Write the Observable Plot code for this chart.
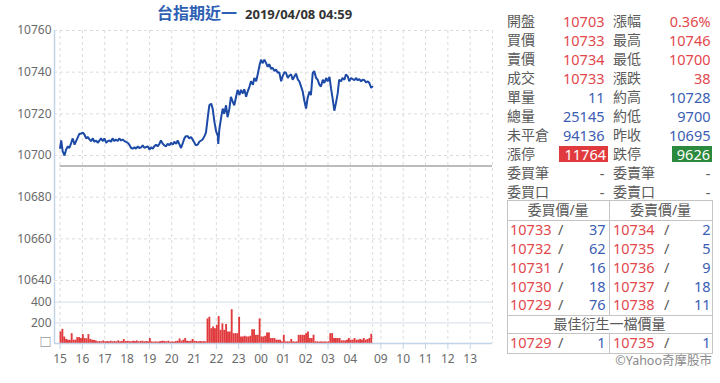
<!DOCTYPE html>
<html><head><meta charset="utf-8">
<script src="https://cdn.jsdelivr.net/npm/d3@7"></script>
<script src="https://cdn.jsdelivr.net/npm/@observablehq/plot@0.6"></script>
<style>
body{margin:0;background:#fff;}
#wrap{position:relative;width:720px;height:383px;overflow:hidden;background:#fff;font-family:"Noto Sans","Noto Sans CJK TC",sans-serif;}
.t{position:absolute;white-space:nowrap;height:20px;line-height:20px;}
#wrap svg{position:absolute;left:0;}
.ln{position:absolute;background:#c4c4c4;}
</style></head><body><div id="wrap"></div>
<script>
// ---------- data ----------
const titleMain = "台指期近一";
const titleStamp = "2019/04/08 04:59";
const prevClose = 10695;
const priceTicks = [10640, 10660, 10680, 10700, 10720, 10740, 10760];
const volTicks = [0, 200, 400];
const hourTicks = ["15:00","16:00","17:00","18:00","19:00","20:00","21:00","22:00","23:00","00:00","01:00","02:00","03:00","04:00","09:00","10:00","11:00","12:00","13:00"];
const hourLabels = ["15","16","17","18","19","20","21","22","23","00","01","02","03","04","09","10","11","12","13"];
const extraGrid = ["05:00","14:00"];

const priceTimes = ["15:00","15:03","15:07","15:12","15:16","15:21","15:25","15:30","15:34","15:39","15:43","15:47","15:52","15:56",
"16:01","16:05","16:10","16:14","16:19","16:23","16:28","16:32","16:37","16:41","16:46","16:50","16:55","16:59",
"17:04","17:08","17:13","17:17","17:21","17:26","17:30","17:35","17:39","17:44","17:48","17:53","17:57",
"18:02","18:06","18:11","18:15","18:20","18:24","18:29","18:33","18:38","18:42","18:47","18:51","18:56",
"19:00","19:04","19:09","19:13","19:18","19:22","19:27","19:31","19:36","19:40","19:45","19:49","19:54","19:58",
"20:03","20:07","20:12","20:16","20:21","20:25","20:30","20:34","20:38","20:43","20:47","20:52","20:56",
"21:01","21:05","21:10","21:14","21:19","21:23","21:28","21:32","21:37","21:41","21:46","21:50","21:55","21:59",
"22:04","22:05","22:08","22:13","22:17","22:21","22:26","22:30","22:35","22:39","22:44","22:48","22:53","22:57",
"23:02","23:06","23:11","23:15","23:20","23:24","23:29","23:33","23:38","23:42","23:47","23:51","23:56",
"00:00","00:04","00:09","00:13","00:18","00:22","00:27","00:31","00:36","00:40","00:45","00:49","00:54","00:58",
"01:03","01:07","01:12","01:16","01:21","01:25","01:30","01:34","01:39","01:43","01:47","01:52","01:56",
"02:01","02:05","02:10","02:14","02:19","02:23","02:28","02:32","02:37","02:41","02:46","02:50","02:55","02:59",
"03:04","03:08","03:13","03:17","03:21","03:26","03:30","03:35","03:39","03:44","03:48","03:53","03:57",
"04:02","04:06","04:11","04:15","04:20","04:24","04:29","04:33","04:38","04:42","04:47","04:51","04:56","04:59"];
const prices = [10703.6,10707.2,10702.0,10700.0,10702.8,10704.4,10703.6,10706.1,10708.2,10705.2,10706.9,10708.5,10710.5,10710.5,
10711.0,10710.2,10708.2,10708.9,10707.7,10706.9,10708.2,10706.6,10707.2,10706.1,10707.2,10708.2,10706.9,10708.2,
10706.1,10706.9,10707.2,10706.6,10708.2,10706.9,10707.7,10706.9,10708.2,10707.2,10707.7,10706.9,10706.6,
10706.1,10705.2,10703.6,10703.3,10703.9,10703.3,10704.4,10703.6,10703.9,10704.9,10703.6,10704.1,10704.4,
10702.8,10703.9,10703.3,10704.4,10705.2,10704.4,10705.6,10707.2,10705.6,10704.9,10704.4,10705.6,10704.9,10706.1,
10705.2,10706.6,10705.6,10707.2,10705.2,10703.6,10706.1,10708.2,10709.3,10709.3,10708.2,10708.9,10707.7,
10706.1,10704.9,10705.2,10706.6,10707.2,10707.7,10709.3,10711.0,10718.4,10724.1,10724.9,10722.5,10715.9,10711.8,
10709.3,10705.6,10712.6,10718.4,10722.5,10720.0,10724.1,10718.4,10722.5,10728.2,10725.7,10724.1,10728.2,10731.5,
10729.0,10731.5,10729.8,10731.8,10728.2,10730.7,10733.1,10735.6,10733.9,10737.2,10735.6,10738.9,10743.3,
10746.0,10744.3,10746.0,10744.6,10742.6,10743.8,10741.6,10742.1,10740.5,10741.3,10739.7,10740.0,10735.6,10738.0,
10740.0,10739.7,10737.2,10738.4,10738.9,10736.4,10738.0,10739.3,10736.4,10735.6,10733.4,10730.7,10726.6,
10722.5,10727.4,10730.7,10729.0,10739.7,10740.5,10737.2,10736.4,10733.9,10733.1,10736.4,10734.8,10737.2,10735.6,
10737.7,10732.3,10726.6,10721.5,10724.9,10729.8,10736.4,10735.6,10737.2,10736.4,10738.9,10738.0,10735.6,
10737.2,10736.7,10736.1,10737.2,10736.1,10736.7,10735.6,10736.4,10736.1,10735.1,10735.6,10734.8,10732.5,10733.0];

const volTimes = [
"15:00","15:05","15:10","15:15","15:20","15:25","15:30","15:35","15:40","15:45","15:50","15:55",
"16:00","16:05","16:10","16:15","16:20","16:25","16:30","16:35","16:40","16:45","16:50","16:55",
"17:00","17:05","17:10","17:15","17:20","17:25","17:30","17:35","17:40","17:45","17:50","17:55",
"18:00","18:05","18:10","18:15","18:20","18:25","18:30","18:35","18:40","18:45","18:50","18:55",
"19:00","19:05","19:10","19:15","19:20","19:25","19:30","19:35","19:40","19:45","19:50","19:55",
"20:00","20:05","20:10","20:15","20:20","20:25","20:30","20:35","20:40","20:45","20:50","20:55",
"21:00","21:05","21:10","21:15","21:20","21:25","21:30","21:35","21:40","21:45","21:50","21:55",
"22:00","22:05","22:10","22:15","22:20","22:25","22:30","22:35","22:40","22:45","22:50","22:55",
"23:00","23:05","23:10","23:15","23:20","23:25","23:30","23:35","23:40","23:45","23:50","23:55",
"00:00","00:05","00:10","00:15","00:20","00:25","00:30","00:35","00:40","00:45","00:50","00:55",
"01:00","01:05","01:10","01:15","01:20","01:25","01:30","01:35","01:40","01:45","01:50","01:55",
"02:00","02:05","02:10","02:15","02:20","02:25","02:30","02:35","02:40","02:45","02:50","02:55",
"03:00","03:05","03:10","03:15","03:20","03:25","03:30","03:35","03:40","03:45","03:50","03:55",
"04:00","04:05","04:10","04:15","04:20","04:25","04:30","04:35","04:40","04:45","04:50","04:55"];
const volumes = [
111,137,63,40,32,30,95,32,32,57,57,48,
86,48,45,86,40,32,30,25,16,19,16,25,
16,19,16,22,16,19,16,25,16,19,38,19,
22,19,16,22,19,25,16,19,22,16,19,16,
48,16,13,16,13,16,19,22,19,16,22,13,
16,13,19,22,44,22,32,48,22,19,22,39,
22,19,16,19,16,19,16,238,254,143,160,143,
175,260,127,190,127,184,111,111,327,95,95,95,
254,63,63,70,63,63,70,133,133,79,79,238,
63,63,70,102,102,48,48,48,32,32,32,16,
80,16,16,16,39,16,13,16,79,79,79,79,
95,111,48,48,80,16,16,13,16,13,16,13,
16,95,95,48,48,48,48,25,25,25,32,48,
32,32,48,32,32,39,32,48,32,39,48,89];
const volInterval = 5;

// quote panel
const infoLabelsL = ["開盤","買價","賣價","成交","單量","總量","未平倉","漲停","委買筆","委買口"];
const infoValuesL = ["10703","10733","10734","10733","11","25145","94136","11764","-","-"];
const infoLabelsR = ["漲幅","最高","最低","漲跌","約高","約低","昨收","跌停","委賣筆","委賣口"];
const infoValuesR = ["0.36%","10746","10700","38","10728","9700","10695","9626","-","-"];
const infoKinds = ["up","up","up","up","blue","blue","blue","box","dash","dash"];
const bookHeaders = ["委買價/量","委賣價/量"];
const bidPrices = [10733,10732,10731,10730,10729];
const bidVols = [37,62,16,18,76];
const askPrices = [10734,10735,10736,10737,10738];
const askVols = [2,5,9,18,11];
const bestTitle = "最佳衍生一檔價量";
const bestBid = [10729, 1];
const bestAsk = [10735, 1];
const credit = "©Yahoo奇摩股市";

// ---------- helpers ----------
const RED = "#e2474c", BLUE = "#3b5db3", GRAY = "#5a5a5a";
function idx(t) {
  const [h, m] = t.split(":").map(Number);
  const mm = h * 60 + m;
  if (h >= 8 && h < 15) return 862 + (mm - 540);
  return (mm - 900 + 1440) % 1440;
}
const xDomain = [-15, idx("14:00")];
const gridIdx = hourTicks.concat(extraGrid).map(idx);
const hourIdx = hourTicks.map(idx);
const font = {fontFamily: '"Noto Sans","Noto Sans CJK TC",sans-serif', fontSize: "12px", color: "#6a6a6a", background: "transparent", overflow: "visible"};
const wrap = document.getElementById("wrap");

// ---------- price chart ----------
const pricePlot = Plot.plot({
  width: 500, height: 282,
  marginTop: 30, marginBottom: 2, marginLeft: 54, marginRight: 8,
  style: font,
  x: {domain: xDomain, axis: null},
  y: {domain: [10640, 10760]},
  marks: [
    Plot.ruleY(priceTicks, {stroke: "#dcdcdc", strokeDasharray: "3,3"}),
    Plot.ruleX(gridIdx, {stroke: "#dcdcdc", strokeDasharray: "3,3"}),
    Plot.ruleY([prevClose], {x1: () => idx(priceTimes[0]), x2: () => xDomain[1], stroke: "#a6a6a6", strokeWidth: 1.5}),
    Plot.line(priceTimes, {x: idx, y: (d, i) => prices[i], stroke: "#1c4aa6", strokeWidth: 2, strokeLinejoin: "miter"}),
    Plot.ruleX([xDomain[0]], {stroke: "#c3d4e8", strokeWidth: 1.5}),
    Plot.axisY(priceTicks, {tickSize: 0, tickPadding: 3, tickFormat: d => String(d)})
  ]
});
pricePlot.style.top = "0px";
wrap.appendChild(pricePlot);

// ---------- volume chart ----------
const volPlot = Plot.plot({
  width: 500, height: 101,
  marginTop: 0, marginBottom: 40, marginLeft: 54, marginRight: 8,
  style: font,
  x: {domain: xDomain},
  y: {domain: [0, 590]},
  marks: [
    Plot.ruleY([200, 400], {stroke: "#dde3eb", strokeWidth: 1.2}),
    Plot.ruleX(gridIdx, {stroke: "#dcdcdc", strokeDasharray: "3,3"}),
    Plot.rect(volTimes, {x1: idx, x2: t => idx(t) + volInterval, y1: 0, y2: (d, i) => volumes[i], fill: "#e03a3d"}),
    Plot.ruleY([0], {stroke: "#c3d4e8", strokeWidth: 1.5}),
    Plot.ruleX([xDomain[0]], {stroke: "#c3d4e8", strokeWidth: 1.5}),
    Plot.axisY(volTicks, {tickSize: 0, tickPadding: 3, tickFormat: d => d === 0 ? "□" : String(d)}),
    Plot.axisX(hourIdx, {tickSize: 6, tickPadding: 5, stroke: "#c3d4e8", fill: "#6a6a6a", tickFormat: v => hourLabels[hourIdx.indexOf(v)]})
  ]
});
volPlot.style.top = "282px";
wrap.appendChild(volPlot);

// ---------- title ----------
const title = document.createElement("div");
title.style.cssText = "position:absolute;left:157px;top:1px;height:22px;line-height:22px;white-space:nowrap;font-weight:700;";
title.innerHTML = `<span style="font-family:'Noto Sans CJK TC';font-size:16px;color:#2f5fb3;">${titleMain}</span>` +
  `<span style="font-size:13px;color:#333;margin-left:8px;">${titleStamp}</span>`;
wrap.appendChild(title);

// ---------- quote panel ----------
function put(txt, x, cy, o = {}) {
  const d = document.createElement("div");
  d.className = "t";
  d.textContent = txt;
  d.style.top = (cy - 10) + "px";
  if (o.align === "right") d.style.right = (720 - x) + "px";
  else if (o.align === "center") { d.style.left = (x - 100) + "px"; d.style.width = "200px"; d.style.textAlign = "center"; }
  else d.style.left = x + "px";
  d.style.color = o.color || GRAY;
  d.style.fontSize = (o.size || 14.5) + "px";
  wrap.appendChild(d);
  return d;
}
function box(x, y, w, h, color) {
  const d = document.createElement("div");
  d.style.cssText = `position:absolute;left:${x}px;top:${y}px;width:${w}px;height:${h}px;background:${color};`;
  wrap.appendChild(d);
}
function line(x, y, w, h) {
  const d = document.createElement("div");
  d.className = "ln";
  d.style.left = x + "px"; d.style.top = y + "px"; d.style.width = w + "px"; d.style.height = h + "px";
  wrap.appendChild(d);
}
infoLabelsL.forEach((lab, i) => {
  const cy = 20.7 + 19 * i;
  const kind = infoKinds[i];
  put(lab, 507, cy, {size: 14});
  put(infoLabelsR[i], 613, cy, {size: 14});
  if (kind === "box") {
    box(559, cy - 8, 49, 16.5, "#e03a3e");
    box(672, cy - 8, 40, 16.5, "#2c8a3e");
    put(infoValuesL[i], 606, cy, {align: "right", color: "#fff"});
    put(infoValuesR[i], 710, cy, {align: "right", color: "#fff"});
  } else {
    const c = kind === "up" ? RED : kind === "blue" ? BLUE : GRAY;
    put(infoValuesL[i], 604.5, cy, {align: "right", color: c});
    put(infoValuesR[i], 710.5, cy, {align: "right", color: c});
  }
});
// order book table
const L = 507, M = 609, R = 712;
const rowsY = [200, 219.5, 314.5, 333, 352.5];
rowsY.forEach(y => line(L, y, R - L + 1, 1));
line(L, 200, 1, 153.5);
line(R, 200, 1, 153.5);
line(M, 200, 1, 115);
line(M, 333, 1, 20);
put(bookHeaders[0], (L + M) / 2, 210, {align: "center", size: 14});
put(bookHeaders[1], (M + R) / 2, 210, {align: "center", size: 14});
bidPrices.forEach((p, i) => {
  const cy = 229.3 + 18.75 * i;
  put(String(p), 510, cy, {color: RED});
  put("/", 558, cy, {color: GRAY});
  put(String(bidVols[i]), 605.5, cy, {align: "right", color: BLUE});
  put(String(askPrices[i]), 613, cy, {color: RED});
  put("/", 664, cy, {color: GRAY});
  put(String(askVols[i]), 710.5, cy, {align: "right", color: BLUE});
});
put(bestTitle, (L + R) / 2, 323.5, {align: "center", size: 14});
put(String(bestBid[0]), 510, 342.3, {color: RED});
put("/", 558, 342.3, {color: GRAY});
put(String(bestBid[1]), 605.5, 342.3, {align: "right", color: BLUE});
put(String(bestAsk[0]), 613, 342.3, {color: RED});
put("/", 664, 342.3, {color: GRAY});
put(String(bestAsk[1]), 710.5, 342.3, {align: "right", color: BLUE});
put(credit, 712, 360.5, {align: "right", color: "#8a8a8a", size: 12.5});
</script></body></html>
